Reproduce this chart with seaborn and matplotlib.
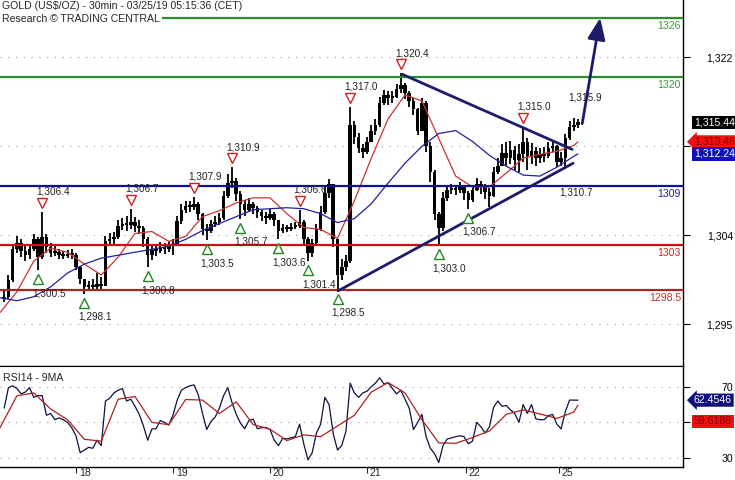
import numpy as np
import matplotlib
matplotlib.use("Agg")
import matplotlib.pyplot as plt
import matplotlib.transforms as mtransforms
import seaborn as sns

# hourly candles (every 2nd half-hour bar), prices in US$/oz
first_open = 1297.6
close = [1297.8, 1299.5, 1302.6, 1303.2, 1302.4, 1302.0, 1302.6, 1303.6, 1301.8, 1303.8,
         1302.8, 1302.2, 1302.3, 1302.0, 1301.9, 1302.1, 1302.0, 1300.8, 1299.6, 1298.8,
         1299.0, 1298.8, 1299.1, 1298.9, 1303.4, 1303.6, 1303.8, 1305.0, 1305.2, 1305.1,
         1305.4, 1305.0, 1304.8, 1303.6, 1302.0, 1302.5, 1302.4, 1302.8, 1302.6, 1302.9,
         1303.0, 1305.5, 1306.6, 1307.0, 1306.9, 1307.2, 1306.2, 1304.6, 1304.4, 1305.2,
         1305.4, 1305.8, 1308.0, 1309.3, 1309.5, 1308.2, 1307.2, 1306.6, 1307.2, 1306.8,
         1306.4, 1306.0, 1305.8, 1306.2, 1305.6, 1304.4, 1304.8, 1304.7, 1304.9, 1305.0,
         1305.4, 1303.6, 1302.2, 1303.2, 1304.6, 1306.4, 1308.3, 1309.2, 1303.6, 1300.0,
         1300.8, 1301.4, 1315.2, 1314.0, 1312.8, 1312.4, 1313.4, 1314.6, 1315.2, 1317.4,
         1318.2, 1317.9, 1318.0, 1318.8, 1319.2, 1318.4, 1317.6, 1316.8, 1314.6, 1317.4,
         1313.0, 1310.4, 1306.2, 1304.8, 1307.8, 1308.6, 1308.8, 1308.6, 1308.9, 1308.3,
         1307.6, 1308.6, 1309.2, 1308.9, 1308.4, 1308.0, 1310.4, 1311.0, 1312.3, 1311.8,
         1312.6, 1311.6, 1312.2, 1313.4, 1312.0, 1312.5, 1311.8, 1312.2, 1312.0, 1312.8,
         1313.0, 1311.4, 1311.8, 1313.8, 1315.0, 1315.2, 1315.44]
high = [1298.6, 1300.0, 1303.0, 1303.9, 1303.6, 1302.9, 1303.1, 1304.1, 1303.8, 1306.4,
        1304.1, 1303.2, 1302.9, 1302.6, 1302.4, 1302.5, 1302.6, 1302.2, 1300.9, 1299.5,
        1299.4, 1299.6, 1300.2, 1299.8, 1303.9, 1304.2, 1304.3, 1305.6, 1305.8, 1306.0,
        1306.7, 1305.9, 1305.6, 1305.0, 1303.8, 1303.0, 1302.9, 1303.3, 1303.2, 1303.4,
        1303.6, 1306.0, 1307.2, 1307.5, 1307.5, 1307.9, 1307.4, 1306.3, 1305.2, 1305.6,
        1306.0, 1306.3, 1308.5, 1310.2, 1310.9, 1309.8, 1308.5, 1307.6, 1307.8, 1307.4,
        1307.0, 1306.6, 1306.4, 1306.7, 1306.4, 1305.6, 1305.2, 1305.1, 1305.3, 1305.4,
        1306.6, 1305.6, 1303.8, 1303.6, 1305.2, 1307.0, 1308.9, 1309.7, 1309.0, 1302.4,
        1301.6, 1302.0, 1317.0, 1315.6, 1314.4, 1313.2, 1313.9, 1315.2, 1315.8, 1318.0,
        1318.7, 1318.6, 1318.6, 1319.3, 1320.4, 1319.4, 1318.6, 1317.9, 1316.9, 1317.9,
        1317.6, 1313.4, 1310.6, 1306.4, 1308.4, 1309.0, 1309.2, 1309.1, 1309.4, 1309.1,
        1308.5, 1309.0, 1309.8, 1309.5, 1309.2, 1308.8, 1310.9, 1311.8, 1313.2, 1313.4,
        1313.5, 1313.0, 1313.2, 1315.0, 1313.8, 1313.3, 1312.9, 1312.8, 1312.9, 1313.4,
        1313.6, 1313.1, 1312.4, 1314.3, 1315.6, 1315.9, 1315.8]
low = [1297.3, 1297.6, 1299.3, 1302.2, 1301.8, 1301.4, 1301.6, 1302.4, 1300.5, 1301.6,
       1302.2, 1301.8, 1301.9, 1301.6, 1301.6, 1301.7, 1301.6, 1300.5, 1299.1, 1298.1,
       1298.5, 1298.4, 1298.6, 1298.5, 1299.0, 1302.9, 1303.1, 1303.6, 1304.5, 1304.4,
       1304.6, 1304.3, 1304.1, 1302.8, 1300.8, 1301.5, 1301.9, 1302.2, 1302.1, 1302.3,
       1302.0, 1303.0, 1305.2, 1306.3, 1306.4, 1306.6, 1305.6, 1304.0, 1303.5, 1304.2,
       1304.9, 1305.1, 1305.6, 1307.8, 1308.8, 1307.5, 1305.7, 1306.0, 1306.4, 1306.2,
       1305.8, 1305.5, 1305.2, 1305.6, 1305.0, 1303.6, 1304.2, 1304.3, 1304.4, 1304.6,
       1304.8, 1303.0, 1301.4, 1301.8, 1302.9, 1304.4, 1306.2, 1307.8, 1302.8, 1298.5,
       1299.5, 1300.4, 1301.2, 1313.2, 1312.3, 1311.8, 1312.2, 1313.4, 1314.2, 1315.0,
       1317.2, 1317.2, 1317.4, 1317.9, 1318.4, 1317.8, 1317.0, 1316.2, 1314.2, 1314.6,
       1312.4, 1309.4, 1305.6, 1303.0, 1304.4, 1307.5, 1308.2, 1308.1, 1308.3, 1307.6,
       1306.7, 1307.4, 1308.5, 1308.2, 1307.7, 1306.9, 1307.9, 1310.2, 1311.0, 1311.0,
       1311.2, 1310.6, 1310.4, 1311.4, 1310.6, 1311.2, 1311.0, 1311.3, 1311.4, 1311.8,
       1312.4, 1310.9, 1311.0, 1310.7, 1313.6, 1314.6, 1314.9]

# moving averages, read every 8 half-hour bars
ma_bars = list(range(0, 273, 8)) + [274]
ma_fast = [1296.2, 1298.3, 1301.4, 1302.7, 1302.3, 1301.1, 1300.0, 1301.8, 1304.2, 1304.4,
           1303.4, 1303.9, 1305.9, 1306.5, 1307.3, 1307.8, 1307.8, 1306.2, 1304.8, 1304.6,
           1303.7, 1307.5, 1311.8, 1315.8, 1318.2, 1317.6, 1313.8, 1310.0, 1308.9, 1308.9,
           1310.3, 1311.8, 1312.2, 1312.5, 1313.1, 1313.46]
ma_slow = [1297.7, 1297.4, 1297.8, 1298.8, 1300.2, 1301.1, 1301.7, 1302.0, 1302.3, 1302.6,
           1302.9, 1303.6, 1304.5, 1305.2, 1305.9, 1306.6, 1306.7, 1306.8, 1306.7, 1306.2,
           1305.3, 1305.7, 1307.2, 1309.3, 1311.3, 1313.0, 1314.3, 1314.6, 1313.5, 1312.1,
           1311.0, 1310.1, 1310.0, 1310.9, 1312.0, 1312.24]

# RSI14 at candle positions, 9MA at ma_bars
rsi = [58, 69.5, 70.5, 69, 66, 67, 69.5, 64, 65, 65,
       54, 55, 51.5, 52.5, 51.5, 50, 47, 42.5, 33, 34.5,
       36, 35.5, 40, 37, 62, 63.5, 66.5, 68, 69, 62,
       63, 59, 54.5, 48, 40, 46.3, 46.5, 51, 50, 48.5,
       54, 62.5, 68, 69.5, 70.5, 71, 65.5, 55, 46, 50.5,
       53, 58, 65, 69.5, 61, 54.5, 49.5, 46.5, 51, 51.8,
       46.5, 47, 47.2, 46, 40, 37, 41, 40.8, 41.4, 42,
       49, 38, 29, 33, 44, 49, 64, 60, 43.5, 34.5,
       37, 45, 72, 66.5, 64, 66.5, 67.5, 70, 72, 75,
       71.5, 72.3, 69, 66, 68, 63, 58, 46, 50, 54.5,
       42, 35.5, 32.5, 27.5, 37, 40.7, 41.3, 42, 42.5, 42,
       38, 39.5, 50, 47.5, 44, 47.5, 58.5, 62, 59, 59.5,
       57, 55, 50, 60, 55, 60, 52, 51.5, 51.5, 53.8,
       54.5, 49, 46.3, 56, 62.5, 62.5, 62.4546]
rsi_ma = [47, 64.9, 66.5, 57.5, 51.5, 40.5, 39.5, 63, 64.5, 50,
          48.7, 62.8, 62.5, 55, 61.5, 48.8, 46.2, 39.8, 43, 42,
          48, 54, 67, 72.3, 66.5, 51.5, 38.5, 38.3, 41.5, 45.2,
          54.5, 57, 54.7, 52.2, 55.8, 59.6186]

# support / resistance levels
levels = [1326, 1320, 1309, 1303, 1298.5]
level_names = ["1326", "1320", "1309", "1303", "1298.5"]
level_colors = ["#2f8f2f", "#2f8f2f", "#1010a0", "#cc1111", "#b22222"]
level_text = ["#3a9a3a", "#3a9a3a", "#2020a0", "#cc2222", "#c03030"]

# swing highs / lows
peak_bars = [20, 62, 92, 110, 142, 166, 190, 248]
peak_vals = [1306.4, 1306.7, 1307.9, 1310.9, 1306.6, 1317.0, 1320.4, 1315.0]
trough_bars = [18, 40, 70, 98, 114, 132, 146, 160, 208, 222]
trough_vals = [1300.5, 1298.1, 1300.8, 1303.5, 1305.7, 1303.6, 1301.4, 1298.5, 1303.0, 1306.7]
last_hi = (272, 1315.9)
last_lo = (268, 1310.7)

# triangle and projection
tri_top_x, tri_top_y = [190.6, 271.2], [1320.3, 1312.7]
tri_bot_x, tri_bot_y = [160.3, 271.7], [1298.4, 1311.3]
proj_x, proj_y = [276, 284.5], [1315.3, 1326]

day_ticks = [36, 82, 128, 174, 221, 265]
day_labels = ["18", "19", "20", "21", "22", "25"]

sns.set_style("white")
plt.rcParams["font.family"] = ["Liberation Sans", "DejaVu Sans"]
plt.rcParams["font.size"] = 7.5

navy = "#1c1c6b"
fs = 7.6
fig = plt.figure(figsize=(7.35, 4.8), dpi=100)
ax = fig.add_axes([0, 0.2375, 0.9293, 0.7625])
ax_rsi = fig.add_axes([0, 0.0271, 0.9293, 0.2104], sharex=ax)

# candles
bars = np.arange(len(close)) * 2 + 2
close_a = np.array(close)
opens = np.r_[first_open, close_a[:-1]]
body_lo = np.minimum(opens, close_a)
body_h = np.maximum(np.abs(close_a - opens), 0.2)
ax.vlines(bars, low, high, color="black", lw=1.3, zorder=2)
ax.bar(bars, body_h, bottom=body_lo, width=1.7, color="black", lw=0, zorder=2)

sns.lineplot(x=ma_bars, y=ma_fast, ax=ax, color="#cc3333", lw=0.9, sort=False, estimator=None, zorder=3)
sns.lineplot(x=ma_bars, y=ma_slow, ax=ax, color="#2020a0", lw=0.9, sort=False, estimator=None, zorder=3)

for v, name, c, tc in zip(levels, level_names, level_colors, level_text):
    ax.axhline(v, color=c, lw=1.6, zorder=4)
    ax.annotate(name, (0.997, v), xycoords=("axes fraction", "data"), xytext=(0, -2),
                textcoords="offset points", ha="right", va="top", color=tc, fontsize=fs, zorder=6)

ax.plot(tri_top_x, tri_top_y, color=navy, lw=2, zorder=5, solid_capstyle="round")
ax.plot(tri_bot_x, tri_bot_y, color=navy, lw=2, zorder=5, solid_capstyle="round")
ax.annotate("", xy=(proj_x[1], proj_y[1]), xytext=(proj_x[0], proj_y[0]),
            arrowprops=dict(arrowstyle="-|>,head_length=1.1,head_width=0.45", color=navy,
                            lw=2, mutation_scale=12, shrinkA=0, shrinkB=0), zorder=5)

up = mtransforms.offset_copy(ax.transData, fig=fig, y=9, units="dots")
dn = mtransforms.offset_copy(ax.transData, fig=fig, y=-9, units="dots")
ax.plot(peak_bars, peak_vals, "v", ms=7, mfc="white", mec="#cc2222", mew=1, ls="none",
        transform=up, zorder=6)
ax.plot(trough_bars, trough_vals, "^", ms=7, mfc="white", mec="#228822", mew=1, ls="none",
        transform=dn, zorder=6)
for b, v in zip(peak_bars + [last_hi[0]], peak_vals + [last_hi[1]]):
    ax.annotate(f"{v:,.1f}", (b, v), xytext=(-6, 20), textcoords="offset pixels",
                ha="left", va="center", fontsize=7.2, color="#222222", zorder=6)
for b, v in zip(trough_bars + [last_lo[0]], trough_vals + [last_lo[1]]):
    ax.annotate(f"{v:,.1f}", (b, v), xytext=(-6, -23), textcoords="offset pixels",
                ha="left", va="center", fontsize=7.2, color="#222222", zorder=6)

ax.text(0.003, 0.997, "GOLD (US$/OZ) - 30min - 03/25/19 05:15:36 (CET)", transform=ax.transAxes,
        ha="left", va="top", fontsize=fs, zorder=8)
ax.text(0.003, 0.962, "Research \u00a9 TRADING CENTRAL", transform=ax.transAxes, ha="left", va="top",
        fontsize=fs, zorder=8, bbox=dict(boxstyle="square,pad=0.2", fc="white", ec="none"))

# RSI panel
sns.lineplot(x=bars, y=rsi, ax=ax_rsi, color="#101040", lw=0.9, sort=False, estimator=None)
sns.lineplot(x=ma_bars, y=rsi_ma, ax=ax_rsi, color="#aa2222", lw=0.9, sort=False, estimator=None)
ax_rsi.text(0.004, 0.93, "RSI14 - 9MA", transform=ax_rsi.transAxes, ha="left", va="top", fontsize=fs)

# value flags on the price scale
flag_kw = dict(xycoords=("axes fraction", "data"), ha="left", va="center", fontsize=fs,
               annotation_clip=False, zorder=9)
ax.annotate(f"{close[-1]:,.2f}", (1.016, close[-1]), color="white",
            bbox=dict(boxstyle="square,pad=0.15", fc="black", ec="none"), **flag_kw)
ax.annotate(f"{ma_fast[-1]:,.2f}", (1.016, ma_fast[-1]), color="#8b0000",
            bbox=dict(boxstyle="larrow,pad=0.15", fc="#ee1111", ec="none"), **flag_kw)
ax.annotate(f"{ma_slow[-1]:,.2f}", (1.016, ma_slow[-1]), color="white",
            bbox=dict(boxstyle="square,pad=0.15", fc="#1010c0", ec="none"), **flag_kw)
ax_rsi.annotate(f"{rsi[-1]:.4f}", (1.016, rsi[-1]), color="white",
                bbox=dict(boxstyle="larrow,pad=0.15", fc="#10107a", ec="none"), **flag_kw)
ax_rsi.annotate(f"{rsi_ma[-1]:.4f}", (1.016, rsi_ma[-1]), xytext=(0, -16), textcoords="offset pixels",
                color="#8b0000", bbox=dict(boxstyle="square,pad=0.15", fc="#ee1111", ec="none"), **flag_kw)

# axes styling
ax.set_xlim(0, 323.8)
ax.set_ylim(1290.8, 1327.8)
ax_rsi.set_ylim(25, 81.6)
ax.set_yticks([1295, 1304, 1313, 1322])
ax.set_yticklabels(["1,295", "1,304", "", "1,322"])
ax_rsi.set_yticks([30, 50, 70])
ax_rsi.set_yticklabels(["30", "50", "70"])
for a in (ax, ax_rsi):
    a.yaxis.tick_right()
    a.tick_params(axis="y", right=True, left=False, length=5, width=0.8, pad=31,
                  labelsize=fs, direction="out", colors="black")
    for lbl in a.get_yticklabels():
        lbl.set_ha("right")
    a.grid(axis="y", ls=(0, (1, 6)), color="#a0a0a0", lw=0.8)
    a.grid(axis="x", visible=False)
    a.set_xlabel("")
    a.set_ylabel("")
    for s in ("left", "top"):
        a.spines[s].set_visible(False)
    for s in ("right", "bottom"):
        a.spines[s].set_color("black")
        a.spines[s].set_linewidth(1.0)
ax_rsi.spines["top"].set_visible(True)
ax_rsi.spines["top"].set_color("black")
ax.tick_params(axis="x", bottom=False, labelbottom=False)
ax_rsi.set_xticks(day_ticks)
ax_rsi.set_xticklabels(day_labels)
ax_rsi.tick_params(axis="x", bottom=True, length=4.5, width=0.8, pad=-4, labelsize=fs, direction="out")
shift = mtransforms.ScaledTranslation(2 / 72, 0, fig.dpi_scale_trans)
for lbl in ax_rsi.get_xticklabels():
    lbl.set_ha("left")
    lbl.set_transform(lbl.get_transform() + shift)

fig.savefig("out.png", dpi=100)
